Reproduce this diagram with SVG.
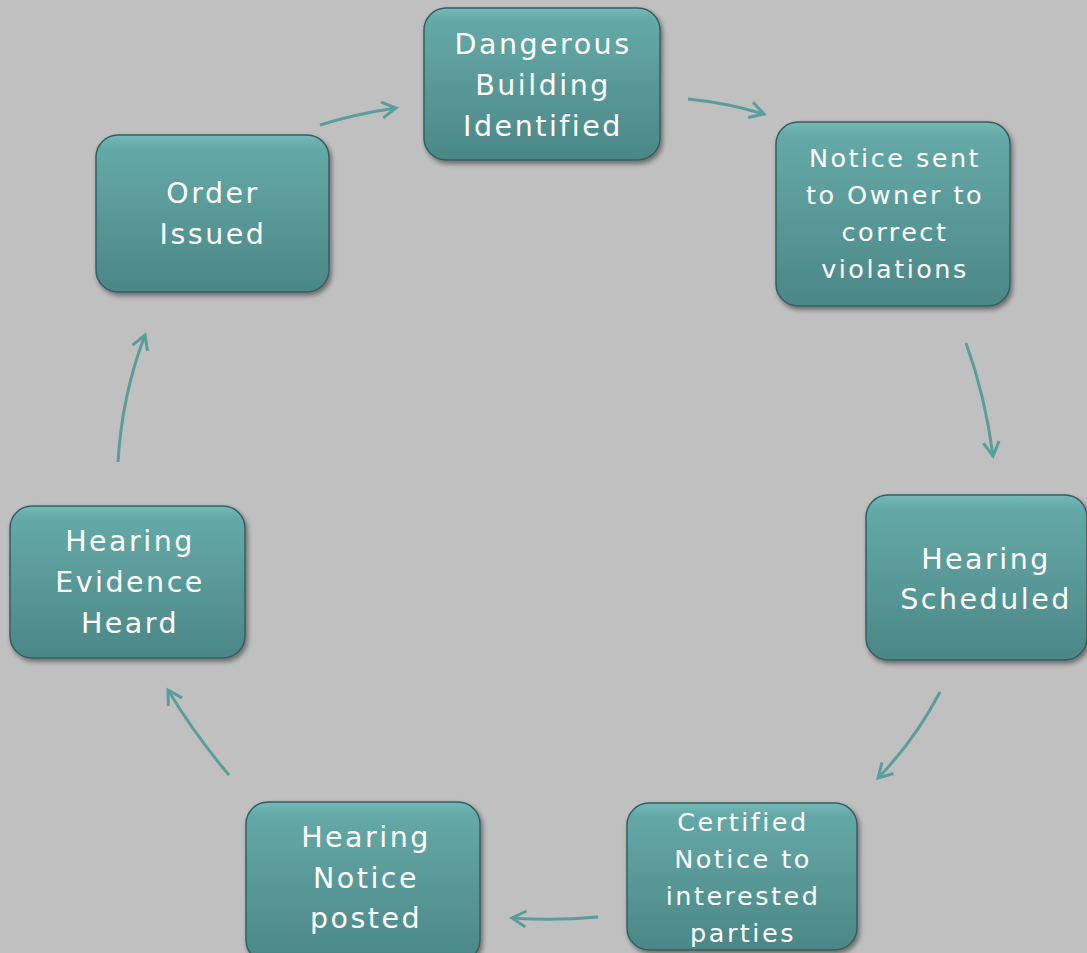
<svg xmlns="http://www.w3.org/2000/svg" width="1087" height="953" viewBox="0 0 1087 953">
<defs>
<linearGradient id="g" x1="0" y1="0" x2="0" y2="1">
<stop offset="0" stop-color="#74bab8"/>
<stop offset="0.08" stop-color="#64a9a7"/>
<stop offset="1" stop-color="#4b8786"/>
</linearGradient>
<filter id="sh" x="-10%" y="-10%" width="125%" height="130%">
<feDropShadow dx="2" dy="3" stdDeviation="2.5" flood-color="#000" flood-opacity="0.45"/>
</filter>
<marker id="ah" viewBox="0 0 20 20" refX="17" refY="10" markerWidth="20" markerHeight="20" markerUnits="userSpaceOnUse" orient="auto">
<path d="M3,2 L17,10 L3,18" fill="none" stroke="#5a9e9b" stroke-width="3"/>
</marker>
<style>
.box{fill:url(#g);stroke:#355f5e;stroke-width:1.5;filter:url(#sh)}
.t{font-family:"DejaVu Sans",Verdana,sans-serif;fill:#fff;text-anchor:middle;letter-spacing:2.5px}
.l{font-size:28.5px}
.s{font-size:25.5px}
.c{fill:none;stroke:#5a9e9b;stroke-width:3;marker-end:url(#ah)}
</style>
</defs>
<rect width="1087" height="953" fill="#c0c0c0"/>
<g id="n1"><rect class="box" x="424" y="8" width="236" height="152" rx="22"/>
<text class="t l"><tspan x="543" y="54">Dangerous</tspan><tspan x="543" y="95">Building</tspan><tspan x="543" y="136">Identified</tspan></text></g>
<g id="n2"><rect class="box" x="776" y="122" width="234" height="184" rx="22"/>
<text class="t s"><tspan x="895" y="167">Notice sent</tspan><tspan x="895" y="204">to Owner to</tspan><tspan x="895" y="241">correct</tspan><tspan x="895" y="278">violations</tspan></text></g>
<g id="n3"><rect class="box" x="866" y="495" width="221" height="165" rx="22"/>
<text class="t l"><tspan x="986" y="569">Hearing</tspan><tspan x="986" y="609">Scheduled</tspan></text></g>
<g id="n4"><rect class="box" x="627" y="803" width="230" height="147" rx="22"/>
<text class="t s"><tspan x="743" y="831">Certified</tspan><tspan x="743" y="868">Notice to</tspan><tspan x="743" y="905">interested</tspan><tspan x="743" y="942">parties</tspan></text></g>
<g id="n5"><rect class="box" x="246" y="802" width="234" height="160" rx="22"/>
<text class="t l"><tspan x="366" y="847">Hearing</tspan><tspan x="366" y="888">Notice</tspan><tspan x="366" y="928">posted</tspan></text></g>
<g id="n6"><rect class="box" x="10" y="506" width="235" height="152" rx="22"/>
<text class="t l"><tspan x="130" y="551">Hearing</tspan><tspan x="130" y="592">Evidence</tspan><tspan x="130" y="633">Heard</tspan></text></g>
<g id="n7"><rect class="box" x="96" y="135" width="233" height="157" rx="22"/>
<text class="t l"><tspan x="213" y="203">Order</tspan><tspan x="213" y="244">Issued</tspan></text></g>
<g id="connectors">
<path class="c" d="M320,125 Q355,114 396,108"/>
<path class="c" d="M688,99 Q728,103 764,114"/>
<path class="c" d="M966,343 Q985,395 993,456"/>
<path class="c" d="M940,692 Q915,740 878,778"/>
<path class="c" d="M598,917 Q555,921 512,918"/>
<path class="c" d="M229,775 Q195,735 168,690"/>
<path class="c" d="M118,462 Q122,395 145,335"/>
</g>
</svg>
